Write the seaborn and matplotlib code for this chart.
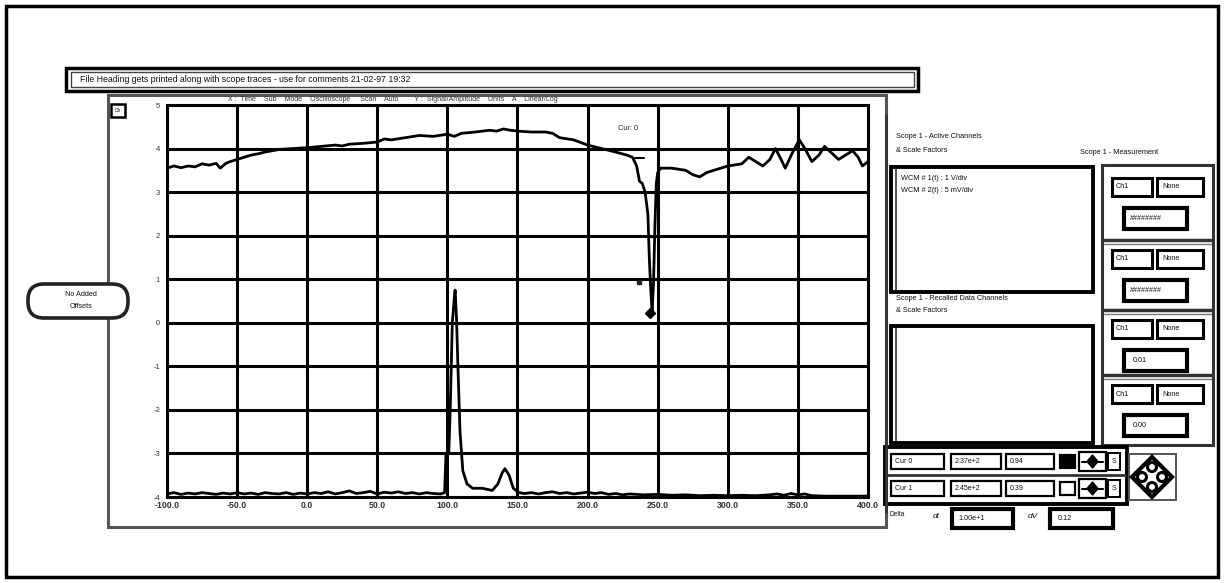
import matplotlib
matplotlib.use("Agg")
import matplotlib.pyplot as plt
from matplotlib.patches import Rectangle, FancyBboxPatch, Polygon, Circle
import seaborn as sns

# ---- data -------------------------------------------------------------
# channel 1 (WCM #1) : 1 V/div
ch1_t = [-100, -95, -90, -85, -80, -75, -70, -65, -62, -58, -55, -50, -45, -40,
         -35, -30, -25, -20, -10, 0, 10, 20, 25, 30, 40, 50, 55, 60, 70, 80, 90,
         100, 105, 110, 120, 130, 135, 140, 145, 150, 160, 170, 175, 180, 190,
         200, 210, 220, 228, 232, 235, 237, 239, 241, 243, 244, 245, 246, 247,
         248, 249, 250, 252, 260, 270, 275, 280, 285, 290, 295, 300, 310, 315,
         320, 325, 330, 334, 338, 341, 346, 351, 355, 360, 365, 369, 374, 379,
         384, 389, 393, 396, 400]
ch1_v = [3.55, 3.6, 3.56, 3.6, 3.58, 3.65, 3.62, 3.66, 3.55, 3.66, 3.7, 3.75,
         3.8, 3.85, 3.88, 3.92, 3.95, 3.98, 4.0, 4.02, 4.05, 4.08, 4.06, 4.1,
         4.12, 4.15, 4.22, 4.2, 4.25, 4.3, 4.28, 4.33, 4.28, 4.35, 4.38, 4.42,
         4.4, 4.45, 4.42, 4.4, 4.38, 4.38, 4.35, 4.25, 4.2, 4.08, 4.0, 3.92,
         3.85, 3.8, 3.6, 3.25, 3.2, 3.0, 2.5, 1.5, 0.8, 0.25, 0.9, 2.2, 3.2,
         3.45, 3.55, 3.55, 3.5, 3.4, 3.35, 3.45, 3.5, 3.55, 3.6, 3.65, 3.8,
         3.7, 3.6, 3.75, 4.0, 3.75, 3.55, 3.9, 4.2, 4.0, 3.7, 3.85, 4.05, 3.9,
         3.75, 3.85, 3.95, 3.8, 3.6, 3.7]

# channel 2 (WCM #2) : 5 mV/div
ch2_t = [-100, -95, -90, -85, -80, -75, -70, -65, -60, -55, -50, -45, -40, -35,
         -30, -25, -20, -15, -10, -5, 0, 5, 10, 15, 20, 25, 30, 35, 40, 45, 50,
         55, 60, 65, 70, 75, 80, 85, 90, 95, 98, 99, 101, 102, 103.5, 105,
         105.5, 106.5, 107.5, 109, 111, 114, 118, 125, 132, 136, 139, 141, 144,
         147, 151, 155, 160, 165, 170, 175, 180, 185, 190, 195, 200, 205, 210,
         215, 220, 225, 230, 240, 250, 260, 270, 280, 290, 300, 310, 320, 330,
         335, 340, 345, 350, 355, 360, 370, 380, 390, 400]
ch2_v = [-3.93, -3.9, -3.94, -3.91, -3.93, -3.9, -3.92, -3.94, -3.91, -3.93,
         -3.9, -3.93, -3.91, -3.94, -3.9, -3.92, -3.93, -3.9, -3.94, -3.91,
         -3.93, -3.9, -3.92, -3.88, -3.93, -3.9, -3.86, -3.92, -3.9, -3.87,
         -3.93, -3.89, -3.91, -3.88, -3.92, -3.9, -3.93, -3.9, -3.92, -3.93,
         -3.9, -3.0, -3.0, -2.0, 0.0, 0.6, 0.75, 0.1, -1.0, -2.5, -3.4, -3.7,
         -3.8, -3.8, -3.85, -3.7, -3.45, -3.35, -3.5, -3.8, -3.9, -3.92, -3.9,
         -3.93, -3.9, -3.88, -3.92, -3.9, -3.93, -3.91, -3.89, -3.92, -3.9,
         -3.94, -3.92, -3.95, -3.93, -3.95, -3.94, -3.96, -3.95, -3.97, -3.96,
         -3.97, -3.96, -3.97, -3.95, -3.93, -3.96, -3.92, -3.95, -3.93, -3.97,
         -3.98, -3.98, -3.98, -3.98]

# cursor markers
cursor_t = [237.0, 244.5]
cursor_v = [0.94, 0.23]

x_ticks = [-100, -50, 0, 50, 100, 150, 200, 250, 300, 350, 400]
x_labels = ["-100.0", "-50.0", "0.0", "50.0", "100.0", "150.0", "200.0",
            "250.0", "300.0", "350.0", "400.0"]
y_ticks = [-4, -3, -2, -1, 0, 1, 2, 3, 4, 5]

channel_lines = ["WCM # 1(t) : 1 V/div", "WCM # 2(t) : 5 mV/div"]
meas_values = ["########", "########", "0.01", "0.00"]
cursor_rows = [("Cur 0", "2.37e+2", "0.94"), ("Cur 1", "2.45e+2", "0.39")]
delta_t, delta_v = "1.00e+1", "0.12"

# ---- figure -------------------------------------------------------------
sns.set_style("white")
plt.rcParams["font.family"] = ["Liberation Sans", "DejaVu Sans"]

W, H = 1224, 583
fig = plt.figure(figsize=(W / 100, H / 100), dpi=100)
fig.patch.set_facecolor("white")

# pixel-space overlay for the panel furniture
ov = fig.add_axes([0, 0, 1, 1], zorder=0)
ov.set_xlim(0, W)
ov.set_ylim(H, 0)
ov.axis("off")


def box(x0, y0, x1, y1, lw=1.5, ec="black", fc="none", z=1):
    ov.add_patch(Rectangle((x0, y0), x1 - x0, y1 - y0, lw=lw, ec=ec, fc=fc,
                           zorder=z))


def txt(x, y, s, size=5.5, **kw):
    ov.text(x, y, s, fontsize=size, va="center", ha=kw.pop("ha", "left"),
            color=kw.pop("color", "#111111"), **kw)


# outer frame
box(6, 6, 1218, 577, lw=2.5)

# title bar
box(66, 68, 918, 91, lw=2.5)
box(71, 72, 914, 87, lw=1.0, ec="#444444")
txt(80, 79.5, "File Heading gets printed along with scope traces - use for "
    "comments 21-02-97 19:32", size=6.3)

# scope window frame
box(108, 95, 886, 527, lw=2.2, ec="#555555")
txt(228, 99.5, "X :  Time    Sub    Mode    Oscilloscope     Scan    Auto"
    "        Y :  Signal/Amplitude    Units    A    Linear/Log", size=5.0,
    color="#333333")
box(111, 104, 125, 117, lw=1.8)
txt(118, 110.5, "Ch", size=3.5, ha="center")

# "No Added Offsets" button
ov.add_patch(FancyBboxPatch((28, 284), 100, 34,
                            boxstyle="round,pad=0,rounding_size=16",
                            lw=2.6, ec="#222222", fc="white", zorder=3))
txt(81, 295, "No Added", size=5.2, ha="center", zorder=4)
txt(81, 306, "Offsets", size=5.2, ha="center", zorder=4)

# right-hand separator
ov.plot([886, 886], [115, 512], color="#333333", lw=2.0)

# active channels panel
txt(896, 137, "Scope 1 - Active Channels", size=5.3)
txt(896, 150, "& Scale Factors", size=5.3)
box(891, 167, 1093, 292, lw=2.8)
ov.plot([896, 896], [169, 290], color="#333333", lw=1.2)
for i, s in enumerate(channel_lines):
    txt(901, 178 + 12 * i, s, size=5.3)

txt(896, 299, "Scope 1 - Recalled Data Channels", size=5.3)
txt(896, 311, "& Scale Factors", size=5.3)
box(891, 326, 1093, 443, lw=2.8)
ov.plot([896, 896], [328, 441], color="#333333", lw=1.2)

# measurement panel
txt(1080, 152, "Scope 1 - Measurement", size=5.3)
box(1102, 165, 1213, 445, lw=2.2, ec="#333333")
group_tops = [178, 250, 320, 385]
for g, (top, val) in enumerate(zip(group_tops, meas_values)):
    if g > 0:
        ov.plot([1104, 1211], [top - 10, top - 10], color="#333333", lw=2.5)
        ov.plot([1104, 1211], [top - 6, top - 6], color="#777777", lw=1.0)
    box(1112, top, 1152, top + 18, lw=2.2)
    txt(1116, top + 9, "Ch1", size=5.2)
    box(1157, top, 1203, top + 18, lw=2.2)
    txt(1162, top + 9, "None", size=5.2)
    box(1124, top + 30, 1187, top + 51, lw=3.0)
    txt(1130 if val.startswith("#") else 1133, top + 40.5, val, size=5.2)

# cursor table
box(885, 447, 1127, 504, lw=2.8)
for r, (name, tv, vv) in enumerate(cursor_rows):
    y0 = 454 + 27 * r
    box(891, y0, 944, y0 + 15, lw=1.6)
    txt(895, y0 + 7.5, name, size=5.0)
    box(951, y0, 1001, y0 + 15, lw=1.6)
    txt(955, y0 + 7.5, tv, size=5.0)
    box(1006, y0, 1054, y0 + 15, lw=1.6)
    txt(1010, y0 + 7.5, vv, size=5.0)
    box(1060, y0 + 1, 1075, y0 + 14, lw=1.6, fc="black" if r == 0 else "white")
    box(1079, y0 - 2, 1106, y0 + 17, lw=1.6)
    ov.plot([1082, 1103], [y0 + 7.5, y0 + 7.5], color="black", lw=1.5)
    ov.add_patch(Polygon([[1092.5, y0 + 1], [1098, y0 + 7.5], [1092.5, y0 + 14],
                          [1087, y0 + 7.5]], closed=True, fc="black", ec="black"))
    box(1108, y0 - 1, 1120, y0 + 16, lw=1.4)
    txt(1114, y0 + 7.5, "S", size=5.0, ha="center")
ov.plot([887, 1125], [475, 475], color="#333333", lw=2.0)

# navigation pad
box(1129, 454, 1176, 500, lw=1.4, ec="#555555")
ov.add_patch(Polygon([[1152, 457], [1172, 477], [1152, 497], [1132, 477]],
                     closed=True, fc="none", ec="black", lw=3.0))
for cx, cy in [(1152, 467), (1142, 477), (1162, 477), (1152, 487)]:
    ov.add_patch(Circle((cx, cy), 4.5, fc="white", ec="black", lw=2.2))

# delta readouts
txt(889, 514, "Delta", size=4.8)
txt(933, 516, "dt", size=6.0, style="italic")
box(952, 509, 1013, 528, lw=3.0)
txt(958, 518.5, delta_t, size=5.2)
txt(1028, 516, "dV", size=6.0, style="italic")
box(1050, 509, 1113, 528, lw=3.0)
txt(1058, 518.5, delta_v, size=5.2)

# ---- traces -------------------------------------------------------------
x0, x1, y0p, y1p = 167, 868, 105, 497
ax = fig.add_axes([x0 / W, 1 - y1p / H, (x1 - x0) / W, (y1p - y0p) / H],
                  zorder=2)
ax.set_facecolor("white")

sns.lineplot(x=ch1_t, y=ch1_v, ax=ax, color="black", lw=2.0, sort=False,
             estimator=None)
sns.lineplot(x=ch2_t, y=ch2_v, ax=ax, color="black", lw=2.0, sort=False,
             estimator=None)

# cursor marks
ax.plot([cursor_t[1]], [cursor_v[1]], marker="D", ms=5, color="black")
ax.plot([cursor_t[0]], [cursor_v[0]], marker="s", ms=3.5, color="#222222")
ax.plot([cursor_t[0] - 3, cursor_t[0] + 3], [3.78, 3.78], color="black", lw=1.5)
ax.text(222, 4.45, "Cur: 0", fontsize=5.3, color="#222222", va="center")

ax.set_xlim(-100, 400)
ax.set_ylim(-4, 5)
ax.set_xticks(x_ticks)
ax.set_xticklabels(x_labels, fontsize=6.3, fontweight="bold", color="#333333")
ax.set_yticks(y_ticks)
ax.set_yticklabels([str(v) for v in y_ticks], fontsize=5.5, color="#333333")
ax.set_yticks([v / 5 for v in range(-20, 25)], minor=True)
ax.tick_params(axis="y", which="minor", length=3, width=1.6, color="#222222",
               direction="out")
ax.tick_params(axis="y", which="major", length=4, width=1.6, pad=1)
ax.tick_params(axis="x", which="major", length=0, pad=3)
ax.grid(True, which="major", color="black", lw=2.2)
for s in ax.spines.values():
    s.set_color("black")
    s.set_linewidth(2.2)
ax.set_xlabel("")
ax.set_ylabel("")

fig.savefig("out.png", dpi=100, facecolor="white")
